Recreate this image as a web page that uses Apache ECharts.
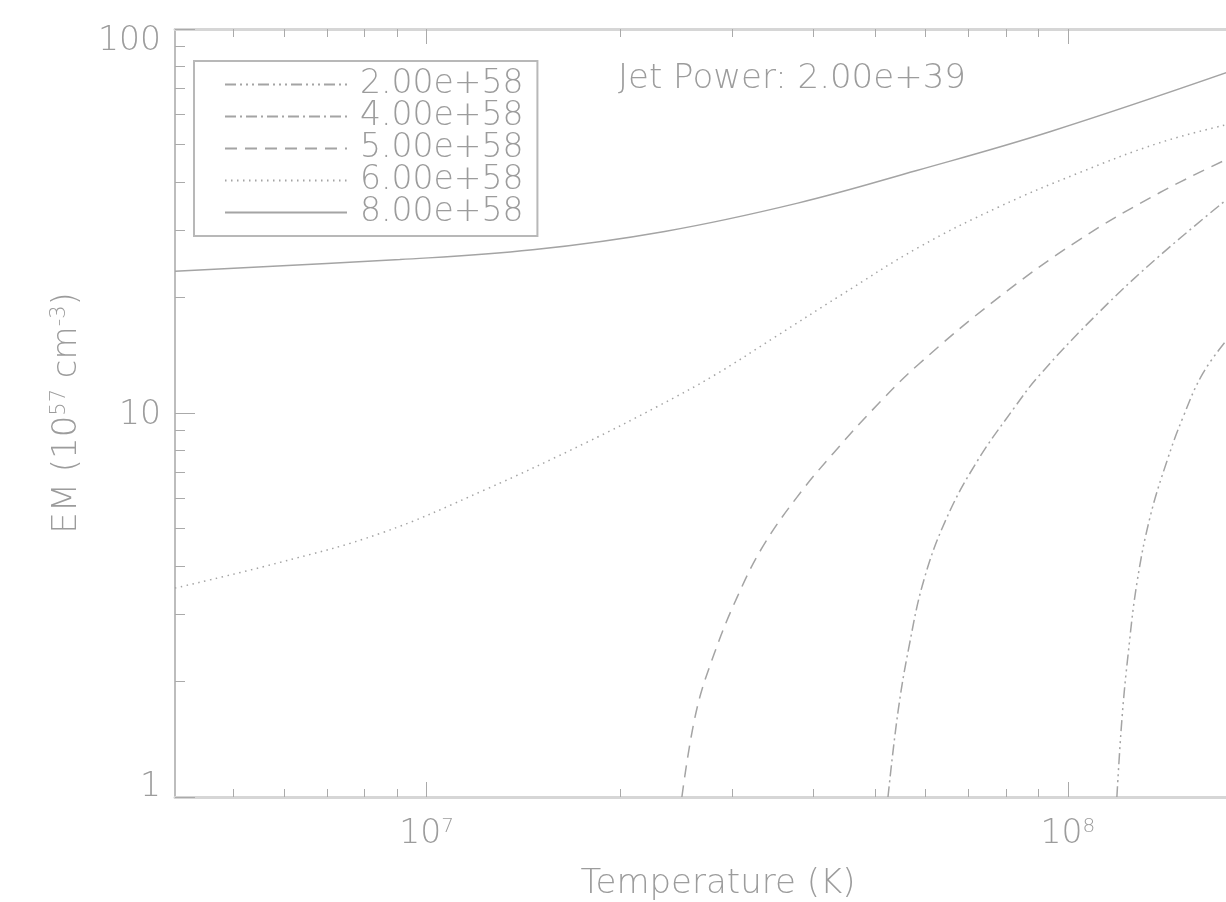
<!DOCTYPE html>
<html>
<head>
<meta charset="utf-8">
<script src="https://cdn.jsdelivr.net/npm/echarts@6/dist/echarts.min.js"></script>
<style>
  html, body { margin: 0; padding: 0; background: #fff; }
  #chart { width: 1226px; height: 902px; }
</style>
</head>
<body>
<div id="chart"></div>
<script>
// legend labels (EM normalisation), plot order = legend order
var legendNames = ['2.00e+58', '4.00e+58', '5.00e+58', '6.00e+58', '8.00e+58'];

// values: temperature (K) and EM (1e57 cm^-3)
var temp2e58 = [1.192e8, 1.214e8, 1.241e8, 1.281e8, 1.343e8, 1.427e8, 1.512e8, 1.624e8, 1.78e8];
var em2e58   = [1.0, 1.6, 2.35, 3.61, 5.36, 7.5, 9.76, 12.7, 15.7];

var temp4e58 = [5.24e7, 5.43e7, 5.65e7, 5.96e7, 6.45e7, 7.19e7, 8.24e7, 9.01e7, 1.118e8, 1.387e8, 1.78e8];
var em4e58   = [1.0, 1.66, 2.46, 3.67, 5.27, 7.41, 10.3, 12.5, 18.3, 25.6, 36.3];

var temp5e58 = [2.5e7, 2.63e7, 2.81e7, 3.05e7, 3.34e7, 3.78e7, 4.31e7, 5.07e7, 5.85e7, 7.8e7, 1.04e8, 1.387e8, 1.78e8];
var em5e58   = [1.0, 1.66, 2.37, 3.32, 4.48, 6.04, 7.87, 10.6, 13.4, 20.0, 28.2, 37.4, 46.0];

var temp6e58 = [4.05e6, 5.86e6, 8.5e6, 1.23e7, 1.78e7, 2.29e7, 2.8e7, 3.5e7, 4.41e7, 5.85e7, 7.8e7, 1.04e8, 1.387e8, 1.78e8];
var em6e58   = [3.5, 4.07, 4.87, 6.3, 8.4, 10.4, 12.5, 15.8, 20.2, 27.0, 34.4, 42.2, 50.5, 56.5];

var temp8e58 = [4.05e6, 9.08e6, 1.463e7, 2.35e7, 3.79e7, 5.81e7, 9.37e7, 1.78e8];
var em8e58   = [23.4, 25.1, 26.6, 29.7, 35.2, 42.8, 54.0, 77.3];

// axis ticks
var xMajor = [1e7, 1e8];
var xMinor = [5e6, 6e6, 7e6, 8e6, 9e6, 2e7, 3e7, 4e7, 5e7, 6e7, 7e7, 8e7, 9e7, 2e8];
var yMajor = [1, 10, 100];
var yMinor = [2, 3, 4, 5, 6, 7, 8, 9, 20, 30, 40, 50, 60, 70, 80, 90];

var FONT = 'DejaVu Sans';
var TXT = '#9c9c9c';
var LINE = '#a4a4a4';
var FS = 33;

function zip(t, e) {
  return t.map(function (v, i) { return [v, e[i]]; });
}

var dashes = [
  [11, 4, 2, 4, 2, 4, 2, 4], // dash dot dot dot
  [11, 4, 2, 4],             // dash dot
  [12, 8],                   // dashed
  [1.5, 4.5],                // dotted
  'solid'
];
var seriesData = [
  zip(temp2e58, em2e58),
  zip(temp4e58, em4e58),
  zip(temp5e58, em5e58),
  zip(temp6e58, em6e58),
  zip(temp8e58, em8e58)
];

var series = legendNames.map(function (name, i) {
  return {
    name: name,
    type: 'line',
    symbol: 'none',
    smooth: 0.4,
    clip: true,
    data: seriesData[i],
    lineStyle: { color: LINE, width: 1.5, type: dashes[i] },
    itemStyle: { color: LINE }
  };
});

var xBase = {
  type: 'log',
  logBase: 10,
  min: 4.05e6,
  max: 2e8,
  splitLine: { show: false }
};
var yBase = {
  type: 'log',
  logBase: 10,
  min: 1,
  max: 100,
  splitLine: { show: false }
};

var option = {
  animation: false,
  backgroundColor: '#fff',
  textStyle: { fontFamily: FONT, color: TXT },
  title: {
    text: 'Jet Power: 2.00e+39',
    left: 618,
    top: 62,
    padding: 0,
    textStyle: { fontFamily: FONT, fontSize: 34, fontWeight: 200, color: TXT }
  },
  // plot box runs past the right edge of the page, as in the original
  grid: { left: 175, top: 29, bottom: 105, width: 1086, outerBoundsMode: 'none' },
  legend: {
    left: 194,
    top: 61,
    orient: 'vertical',
    padding: [7, 14, 7, 30],
    itemGap: -1,
    itemWidth: 122,
    itemHeight: 1,
    itemStyle: { opacity: 0 },
    borderColor: '#b8b8b8',
    borderWidth: 2,
    borderRadius: 0,
    textStyle: { fontFamily: FONT, fontSize: FS, fontWeight: 200, color: TXT, lineHeight: 30, padding: [0, 0, 0, 8] },
    data: legendNames
  },
  xAxis: [
    Object.assign({}, xBase, {
      position: 'bottom',
      name: 'Temperature (K)',
      nameLocation: 'middle',
      nameGap: 70,
      nameTextStyle: { fontFamily: FONT, fontSize: 34, fontWeight: 200, color: TXT },
      axisLine: { show: true, lineStyle: { color: '#d6d6d6', width: 3 } },
      axisTick: { show: true, inside: true, length: 15, customValues: xMajor, lineStyle: { color: '#aaa', width: 1 } },
      axisLabel: {
        show: true,
        margin: 20,
        customValues: xMajor,
        formatter: function (v) {
          return '{b|10}{s|' + Math.round(Math.log10(v)) + '}';
        },
        rich: {
          b: { fontFamily: FONT, fontSize: FS, fontWeight: 200, color: TXT, lineHeight: 34 },
          s: { fontFamily: FONT, fontSize: 20, fontWeight: 200, color: TXT, lineHeight: 22, verticalAlign: 'top' }
        }
      }
    }),
    Object.assign({}, xBase, {
      position: 'bottom',
      axisLine: { show: false },
      axisTick: { show: true, inside: true, length: 8, customValues: xMinor, lineStyle: { color: '#aaa', width: 1 } },
      axisLabel: { show: false }
    }),
    Object.assign({}, xBase, {
      position: 'top',
      axisLine: { show: true, lineStyle: { color: '#d6d6d6', width: 3 } },
      axisTick: { show: true, inside: true, length: 15, customValues: xMajor, lineStyle: { color: '#aaa', width: 1 } },
      axisLabel: { show: false }
    }),
    Object.assign({}, xBase, {
      position: 'top',
      axisLine: { show: false },
      axisTick: { show: true, inside: true, length: 8, customValues: xMinor, lineStyle: { color: '#aaa', width: 1 } },
      axisLabel: { show: false }
    })
  ],
  yAxis: [
    Object.assign({}, yBase, {
      position: 'left',
      name: '{n|EM (10}{s|57}{n| cm}{s|-3}{n|)}',
      nameLocation: 'middle',
      nameGap: 90,
      nameTextStyle: {
        rich: {
          n: { fontFamily: FONT, fontSize: 34, fontWeight: 200, color: TXT, lineHeight: 36 },
          s: { fontFamily: FONT, fontSize: 21, fontWeight: 200, color: TXT, lineHeight: 22, verticalAlign: 'top' }
        }
      },
      axisLine: { show: true, lineStyle: { color: '#bdbdbd', width: 2 } },
      axisTick: { show: true, inside: true, length: 20, customValues: yMajor, lineStyle: { color: '#aaa', width: 1 } },
      axisLabel: {
        show: true,
        margin: 14,
        customValues: yMajor,
        formatter: function (v) {
          var r = Math.round(v);
          if (r === 100) return '{t|100}';
          if (r === 1) return '{u|1}';
          return '{m|' + r + '}';
        },
        rich: {
          t: { fontFamily: FONT, fontSize: FS, fontWeight: 200, color: TXT, padding: [24, 0, 0, 0] },
          m: { fontFamily: FONT, fontSize: FS, fontWeight: 200, color: TXT, padding: [4, 0, 0, 0] },
          u: { fontFamily: FONT, fontSize: FS, fontWeight: 200, color: TXT, padding: [0, 0, 20, 0] }
        }
      }
    }),
    Object.assign({}, yBase, {
      position: 'left',
      axisLine: { show: false },
      axisTick: { show: true, inside: true, length: 10, customValues: yMinor, lineStyle: { color: '#aaa', width: 1 } },
      axisLabel: { show: false }
    })
  ],
  series: series
};

var chart = echarts.init(document.getElementById('chart'));
chart.setOption(option);
</script>
</body>
</html>
